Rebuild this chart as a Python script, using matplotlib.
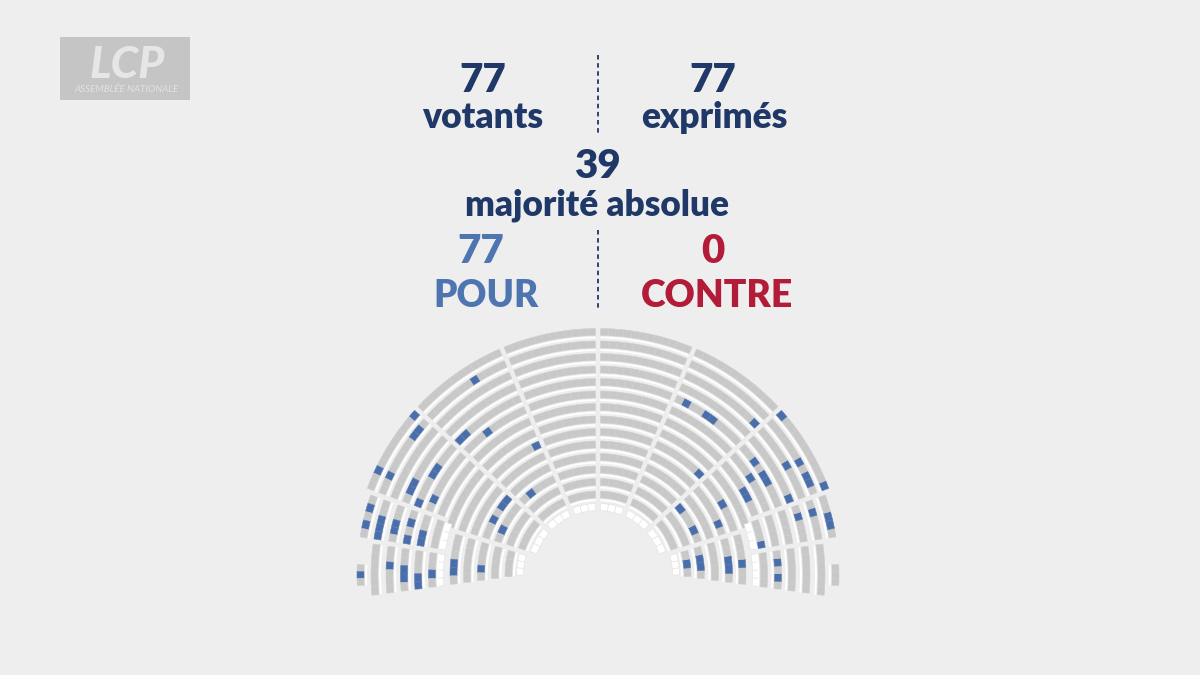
import numpy as np
import matplotlib.pyplot as plt
from matplotlib.patches import Wedge, Rectangle
from matplotlib.collections import PatchCollection

# vote figures
votants = 77
exprimes = 77
majorite = 39
pour = 77
contre = 0

# blue seats read off the hemicycle: angle in degrees (0 = right, 180 = left),
# distance from the centre in pixels, and how many seats side by side
blue_angle = [122.0, 139.9, 140.9, 134.5, 128.9, 154.1, 154.2, 153.2, 145.9, 157.3,
              156.1, 117.1, 128.0, 141.6, 151.7, 156.0, 164.0, 168.2, 168.0, 165.8,
              164.2, 169.7, 166.7, 180.8, 176.8, 179.3, 182.1, 180.6, 175.4, 178.9,
              61.7, 53.3, 44.6, 40.2, 45.8, 35.1, 30.0, 30.1, 33.5, 28.9,
              27.8, 22.9, 21.8, 21.0, 28.9, 39.1, 24.0, 22.8, 15.5, 15.6,
              12.0, 11.5, 8.6, 5.7, 2.2, 3.0, 5.1, -0.5]
blue_radius = [229, 242, 228, 198, 184, 240, 227, 211, 198, 197,
               183, 137, 107, 121, 120, 105, 239, 239, 224, 210,
               195, 195, 181, 237, 209, 195, 180, 166, 145, 116,
               199, 198, 212, 242, 149, 197, 212, 228, 183, 196,
               168, 227, 240, 211, 148, 106, 105, 133, 210, 225,
               239, 168, 89, 102, 130, 145, 180, 180]
blue_count = [1, 1, 2, 2, 1, 1, 1, 2, 2, 1,
              1, 1, 1, 2, 1, 1, 1, 1, 3, 2,
              1, 1, 2, 1, 1, 2, 2, 1, 2, 1,
              1, 2, 1, 1, 1, 1, 1, 1, 1, 2,
              2, 2, 1, 1, 1, 1, 1, 1, 1, 1,
              2, 1, 1, 2, 2, 1, 1, 1]

BG = "#eeeeee"
GRAY = "#c8c8c8"
BLUE = "#4a6ea9"
NAVY = "#1f3867"
POUR_C = "#4f75b0"
RED = "#b21c38"

CX, CY = 598, 575
AISLE = 5.0
SEAT = 8.0
BAND = 7.0


def bottom_angle(r, side):
    # lower edge of the two bottom blocks is slightly slanted
    yb = 575 + (r - 78) * 0.137
    a = np.degrees(np.arcsin((yb - CY) / r))
    return 180 + a if side == "left" else -a


# rows: (radius, start angle, end angle, kind, trim start, trim end)
rows = []
up_in = [80.5, 93, 105.5, 118, 130.5, 143, 155.5]
up_out = [168, 180.5, 193, 205.5, 218, 230.5, 243]
low_in = [89.5, 103, 117, 131, 144.5]
low_out = [166, 180, 194, 208.5, 223.5, 237.5]

b_in = [17, 42.5, 67, 90, 113, 137.5, 163]
b_out = [20, 42.5, 67, 90, 113, 137.5, 160]
for a1, a2 in zip(b_in[:-1], b_in[1:]):
    rows.append((68, a1, a2, "white", True, True))
    for r in up_in:
        rows.append((r, a1, a2, "gray", True, True))
for a1, a2 in zip(b_out[:-1], b_out[1:]):
    for r in up_out:
        rows.append((r, a1, a2, "gray", True, True))

# lower blocks, left and right
for a1, a2 in [(160, 171.5), (8.5, 20)]:
    rows.append((158, a1, a2, "white", True, True))
    for r in low_out:
        rows.append((r, a1, a2, "gray", True, True))
for side in ["left", "right"]:
    if side == "left":
        rows.append((158, 171.5, bottom_angle(158, side), "white", True, False))
        for r in low_out[:-1]:
            rows.append((r, 171.5, bottom_angle(r, side), "gray", True, False))
        rows.append((237.5, 177.5, 182.5, "gray", False, False))
        rows.append((78, 163, bottom_angle(78, side), "white", True, False))
        for r in low_in:
            rows.append((r, 163, bottom_angle(r, side), "gray", True, False))
    else:
        rows.append((158, bottom_angle(158, side), 8.5, "white", False, True))
        for r in low_out[:-1]:
            rows.append((r, bottom_angle(r, side), 8.5, "gray", False, True))
        rows.append((237.5, -2.5, 2.5, "gray", False, False))
        rows.append((78, bottom_angle(78, side), 17, "white", False, True))
        for r in low_in:
            rows.append((r, bottom_angle(r, side), 17, "gray", False, True))

fig = plt.figure(figsize=(12, 6.75), dpi=100, facecolor=BG)
ax = fig.add_axes([0, 0, 1, 1])
ax.set_facecolor(BG)
ax.set_xlim(0, 1200)
ax.set_ylim(675, 0)
ax.axis("off")

# row geometry with aisles trimmed
seat_rows = []
for r, a1, a2, kind, t1, t2 in rows:
    da = np.degrees(AISLE / 2 / r)
    s = a1 + (da if t1 else 0)
    e = a2 - (da if t2 else 0)
    n = max(1, int(round(np.radians(e - s) * r / SEAT)))
    seat_rows.append([r, s, e, kind, n, set()])

# put the blue seats into the matching rows
for ang, rad, cnt in zip(blue_angle, blue_radius, blue_count):
    best = None
    for row in seat_rows:
        r, s, e, kind, n, blues = row
        if kind != "gray" or not (s - 1.5 <= ang <= e + 1.5):
            continue
        if best is None or abs(r - rad) < abs(best[0] - rad):
            best = row
    r, s, e, kind, n, blues = best
    idx = int(np.clip((ang - s) / (e - s) * n, 0, n - 1))
    first = int(np.clip(idx - (cnt - 1) // 2, 0, max(0, n - cnt)))
    for k in range(first, first + cnt):
        blues.add(k)

patches, faces, edges = [], [], []
for r, s, e, kind, n, blues in seat_rows:
    step = (e - s) / n
    ro = r + BAND / 2
    if kind == "gray":
        # thin white rail on the inner side of each row
        patches.append(Wedge((CX, CY), r - BAND / 2 - 1.2, -e, -s, width=1.8))
        faces.append("white")
        edges.append("none")
    for k in range(n):
        t1 = s + k * step
        t2 = t1 + step
        patches.append(Wedge((CX, CY), ro, -t2, -t1, width=BAND))
        if kind == "white":
            faces.append("white")
            edges.append("#e2e2e2")
        elif k in blues:
            faces.append(BLUE)
            edges.append("#5a7db5")
        else:
            faces.append(GRAY)
            edges.append("#cfcfcf")

ax.add_collection(PatchCollection(patches, facecolors=faces, edgecolors=edges,
                                  linewidths=0.4, match_original=False))

# headline figures
font = dict(family="Lato", weight="heavy", ha="center", va="baseline")
ax.text(483, 92, str(votants), color=NAVY, fontsize=29, **font)
ax.text(483, 128, "votants", color=NAVY, fontsize=25.5, **font)
ax.text(713, 92, str(exprimes), color=NAVY, fontsize=29, **font)
ax.text(714, 128, "exprimés", color=NAVY, fontsize=25.5, **font)
ax.text(597, 178, str(majorite), color=NAVY, fontsize=29, **font)
ax.text(597, 216, "majorité absolue", color=NAVY, fontsize=25.3, **font)
ax.text(481, 263, str(pour), color=POUR_C, fontsize=29, **font)
ax.text(486, 307, "POUR", color=POUR_C, fontsize=26.5, **font)
ax.text(713, 263, str(contre), color=RED, fontsize=29, **font)
ax.text(717, 307, "CONTRE", color=RED, fontsize=26.8, **font)

ax.plot([598, 598], [55, 133], color=NAVY, lw=1.3, ls=(0, (2.5, 2)))
ax.plot([598, 598], [230, 308], color=NAVY, lw=1.3, ls=(0, (2.5, 2)))

# channel logo
ax.add_patch(Rectangle((60, 37), 130, 63, facecolor="#c5c5c5", edgecolor="none"))
ax.text(127, 78, "LCP", color="#e6e6e6", fontsize=32, family="Lato",
        weight="black", style="italic", ha="center", va="baseline")
ax.text(126, 92, "ASSEMBLÉE NATIONALE", color="#e2e2e2", fontsize=7,
        family="Lato", style="italic", ha="center", va="baseline")

fig.savefig("out.png", dpi=100, facecolor=BG)
